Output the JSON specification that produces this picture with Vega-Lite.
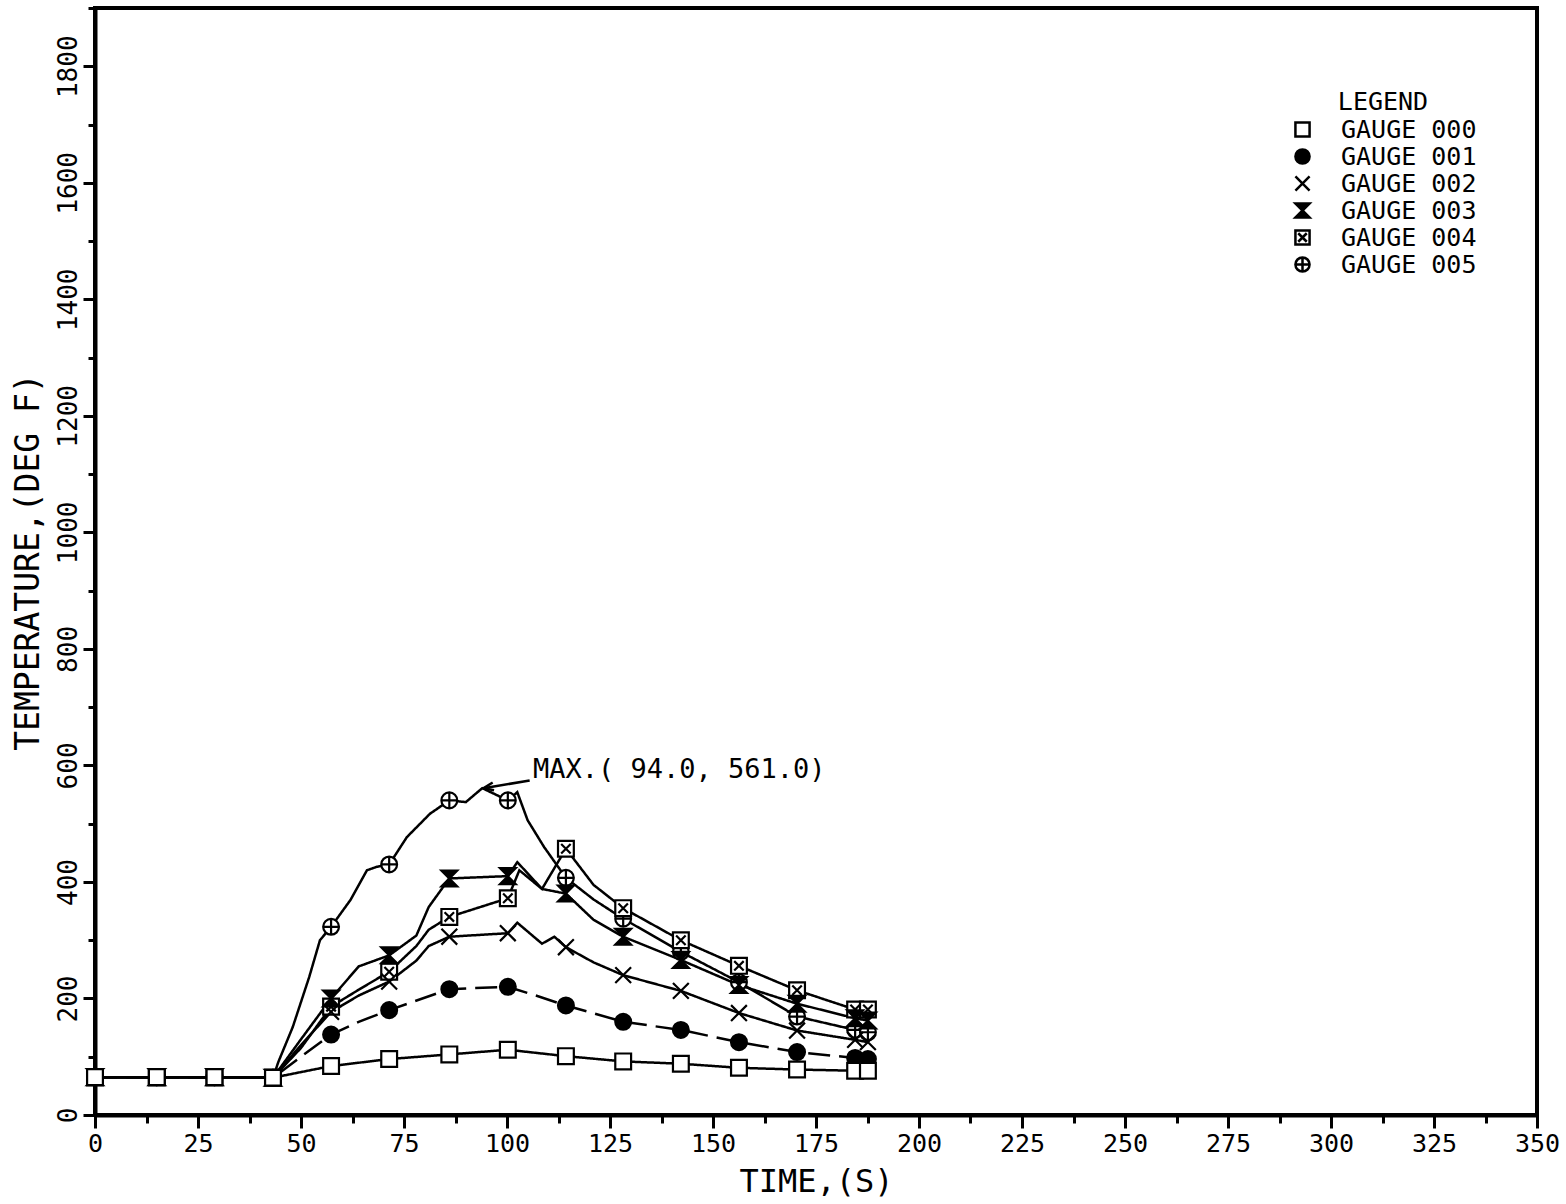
{
  "$schema": "https://vega.github.io/schema/vega-lite/v6.json",
  "width": 1442,
  "height": 1107,
  "autosize": {"type": "none"},
  "padding": {"left": 95, "top": 8, "right": 29, "bottom": 89},
  "background": "white",
  "config": {
    "font": "DejaVu Sans Mono",
    "view": {"stroke": "black", "strokeWidth": 4},
    "legend": {
      "orient": "none", "legendX": 1195, "legendY": 82,
      "titleFontSize": 25, "titleFontWeight": "normal", "titleColor": "black", "titleAnchor": "middle", "titlePadding": 2,
      "labelFontSize": 25, "labelColor": "black", "labelOffset": 26,
      "symbolSize": 200, "symbolStrokeWidth": 2.5, "rowPadding": 1
    }
  },
  "datasets": {
    "lines": [
      {"g": "GAUGE 005", "t": 0, "v": 65, "m": 1}, {"g": "GAUGE 005", "t": 15, "v": 65, "m": 1}, {"g": "GAUGE 005", "t": 29, "v": 65, "m": 1}, {"g": "GAUGE 005", "t": 43.2, "v": 64, "m": 1},
      {"g": "GAUGE 005", "t": 44.5, "v": 91, "m": 0}, {"g": "GAUGE 005", "t": 48, "v": 151, "m": 0}, {"g": "GAUGE 005", "t": 52, "v": 237, "m": 0}, {"g": "GAUGE 005", "t": 54.6, "v": 300, "m": 0},
      {"g": "GAUGE 005", "t": 57.3, "v": 323, "m": 1}, {"g": "GAUGE 005", "t": 62, "v": 369, "m": 0}, {"g": "GAUGE 005", "t": 66, "v": 420, "m": 0}, {"g": "GAUGE 005", "t": 68.4, "v": 426, "m": 0},
      {"g": "GAUGE 005", "t": 71.4, "v": 430, "m": 1}, {"g": "GAUGE 005", "t": 75.7, "v": 477, "m": 0}, {"g": "GAUGE 005", "t": 81.3, "v": 517, "m": 0}, {"g": "GAUGE 005", "t": 86, "v": 540, "m": 1},
      {"g": "GAUGE 005", "t": 90, "v": 537, "m": 0}, {"g": "GAUGE 005", "t": 94, "v": 561, "m": 0}, {"g": "GAUGE 005", "t": 100.2, "v": 540, "m": 1}, {"g": "GAUGE 005", "t": 102.5, "v": 554, "m": 0},
      {"g": "GAUGE 005", "t": 105, "v": 506, "m": 0}, {"g": "GAUGE 005", "t": 109, "v": 460, "m": 0}, {"g": "GAUGE 005", "t": 114.3, "v": 407, "m": 1}, {"g": "GAUGE 005", "t": 121, "v": 370, "m": 0},
      {"g": "GAUGE 005", "t": 128.2, "v": 337, "m": 1}, {"g": "GAUGE 005", "t": 142.2, "v": 280, "m": 1}, {"g": "GAUGE 005", "t": 156.3, "v": 228, "m": 1}, {"g": "GAUGE 005", "t": 170.4, "v": 169, "m": 1},
      {"g": "GAUGE 005", "t": 184.5, "v": 146, "m": 1}, {"g": "GAUGE 005", "t": 187.6, "v": 142, "m": 1},

      {"g": "GAUGE 004", "t": 0, "v": 65, "m": 1}, {"g": "GAUGE 004", "t": 15, "v": 65, "m": 1}, {"g": "GAUGE 004", "t": 29, "v": 65, "m": 1}, {"g": "GAUGE 004", "t": 43.2, "v": 64, "m": 1},
      {"g": "GAUGE 004", "t": 50, "v": 115, "m": 0}, {"g": "GAUGE 004", "t": 57.3, "v": 186, "m": 1}, {"g": "GAUGE 004", "t": 64, "v": 215, "m": 0}, {"g": "GAUGE 004", "t": 71.4, "v": 246, "m": 1},
      {"g": "GAUGE 004", "t": 78, "v": 290, "m": 0}, {"g": "GAUGE 004", "t": 81, "v": 318, "m": 0}, {"g": "GAUGE 004", "t": 86, "v": 340, "m": 1}, {"g": "GAUGE 004", "t": 100.2, "v": 372, "m": 1},
      {"g": "GAUGE 004", "t": 103, "v": 420, "m": 0}, {"g": "GAUGE 004", "t": 108.5, "v": 388, "m": 0}, {"g": "GAUGE 004", "t": 114.3, "v": 457, "m": 1}, {"g": "GAUGE 004", "t": 121, "v": 395, "m": 0},
      {"g": "GAUGE 004", "t": 128.2, "v": 355, "m": 1}, {"g": "GAUGE 004", "t": 142.2, "v": 300, "m": 1}, {"g": "GAUGE 004", "t": 156.3, "v": 256, "m": 1}, {"g": "GAUGE 004", "t": 170.4, "v": 214, "m": 1},
      {"g": "GAUGE 004", "t": 184.5, "v": 181, "m": 1}, {"g": "GAUGE 004", "t": 187.6, "v": 181, "m": 1},

      {"g": "GAUGE 003", "t": 0, "v": 65, "m": 1}, {"g": "GAUGE 003", "t": 15, "v": 65, "m": 1}, {"g": "GAUGE 003", "t": 29, "v": 65, "m": 1}, {"g": "GAUGE 003", "t": 43.2, "v": 64, "m": 1},
      {"g": "GAUGE 003", "t": 50, "v": 130, "m": 0}, {"g": "GAUGE 003", "t": 57.3, "v": 200, "m": 1}, {"g": "GAUGE 003", "t": 64, "v": 255, "m": 0}, {"g": "GAUGE 003", "t": 71.4, "v": 274, "m": 1},
      {"g": "GAUGE 003", "t": 78, "v": 308, "m": 0}, {"g": "GAUGE 003", "t": 81, "v": 357, "m": 0}, {"g": "GAUGE 003", "t": 86, "v": 406, "m": 1}, {"g": "GAUGE 003", "t": 100.2, "v": 410, "m": 1},
      {"g": "GAUGE 003", "t": 102.5, "v": 434, "m": 0}, {"g": "GAUGE 003", "t": 108.5, "v": 388, "m": 0}, {"g": "GAUGE 003", "t": 114.3, "v": 380, "m": 1}, {"g": "GAUGE 003", "t": 121, "v": 335, "m": 0},
      {"g": "GAUGE 003", "t": 128.2, "v": 306, "m": 1}, {"g": "GAUGE 003", "t": 142.2, "v": 266, "m": 1}, {"g": "GAUGE 003", "t": 156.3, "v": 223, "m": 1}, {"g": "GAUGE 003", "t": 170.4, "v": 191, "m": 1},
      {"g": "GAUGE 003", "t": 184.5, "v": 166, "m": 1}, {"g": "GAUGE 003", "t": 187.6, "v": 162, "m": 1},

      {"g": "GAUGE 002", "t": 0, "v": 65, "m": 1}, {"g": "GAUGE 002", "t": 15, "v": 65, "m": 1}, {"g": "GAUGE 002", "t": 29, "v": 65, "m": 1}, {"g": "GAUGE 002", "t": 43.2, "v": 64, "m": 1},
      {"g": "GAUGE 002", "t": 50, "v": 120, "m": 0}, {"g": "GAUGE 002", "t": 57.3, "v": 177, "m": 1}, {"g": "GAUGE 002", "t": 64, "v": 205, "m": 0}, {"g": "GAUGE 002", "t": 71.4, "v": 229, "m": 1},
      {"g": "GAUGE 002", "t": 78, "v": 265, "m": 0}, {"g": "GAUGE 002", "t": 81, "v": 290, "m": 0}, {"g": "GAUGE 002", "t": 86, "v": 306, "m": 1}, {"g": "GAUGE 002", "t": 100.2, "v": 312, "m": 1},
      {"g": "GAUGE 002", "t": 102.5, "v": 330, "m": 0}, {"g": "GAUGE 002", "t": 108.5, "v": 294, "m": 0}, {"g": "GAUGE 002", "t": 111.5, "v": 306, "m": 0}, {"g": "GAUGE 002", "t": 114.3, "v": 288, "m": 1},
      {"g": "GAUGE 002", "t": 121, "v": 262, "m": 0}, {"g": "GAUGE 002", "t": 128.2, "v": 240, "m": 1}, {"g": "GAUGE 002", "t": 142.2, "v": 213, "m": 1}, {"g": "GAUGE 002", "t": 156.3, "v": 175, "m": 1},
      {"g": "GAUGE 002", "t": 170.4, "v": 145, "m": 1}, {"g": "GAUGE 002", "t": 184.5, "v": 129, "m": 1}, {"g": "GAUGE 002", "t": 187.6, "v": 125, "m": 1},

      {"g": "GAUGE 001", "t": 0, "v": 65, "m": 1}, {"g": "GAUGE 001", "t": 15, "v": 65, "m": 1}, {"g": "GAUGE 001", "t": 29, "v": 65, "m": 1}, {"g": "GAUGE 001", "t": 43.2, "v": 64, "m": 1},
      {"g": "GAUGE 001", "t": 50, "v": 100, "m": 0}, {"g": "GAUGE 001", "t": 57.3, "v": 138, "m": 1}, {"g": "GAUGE 001", "t": 64, "v": 160, "m": 0}, {"g": "GAUGE 001", "t": 71.4, "v": 180, "m": 1},
      {"g": "GAUGE 001", "t": 86, "v": 216, "m": 1}, {"g": "GAUGE 001", "t": 100.2, "v": 220, "m": 1}, {"g": "GAUGE 001", "t": 107, "v": 205, "m": 0}, {"g": "GAUGE 001", "t": 114.3, "v": 188, "m": 1},
      {"g": "GAUGE 001", "t": 128.2, "v": 160, "m": 1}, {"g": "GAUGE 001", "t": 142.2, "v": 146, "m": 1}, {"g": "GAUGE 001", "t": 156.3, "v": 125, "m": 1}, {"g": "GAUGE 001", "t": 170.4, "v": 108, "m": 1},
      {"g": "GAUGE 001", "t": 184.5, "v": 98, "m": 1}, {"g": "GAUGE 001", "t": 187.6, "v": 96, "m": 1},

      {"g": "GAUGE 000", "t": 0, "v": 65, "m": 1}, {"g": "GAUGE 000", "t": 15, "v": 65, "m": 1}, {"g": "GAUGE 000", "t": 29, "v": 65, "m": 1}, {"g": "GAUGE 000", "t": 43.2, "v": 64, "m": 1},
      {"g": "GAUGE 000", "t": 57.3, "v": 84, "m": 1}, {"g": "GAUGE 000", "t": 71.4, "v": 96, "m": 1}, {"g": "GAUGE 000", "t": 86, "v": 104, "m": 1}, {"g": "GAUGE 000", "t": 100.2, "v": 112, "m": 1},
      {"g": "GAUGE 000", "t": 114.3, "v": 101, "m": 1}, {"g": "GAUGE 000", "t": 128.2, "v": 92, "m": 1}, {"g": "GAUGE 000", "t": 142.2, "v": 88, "m": 1}, {"g": "GAUGE 000", "t": 156.3, "v": 81, "m": 1},
      {"g": "GAUGE 000", "t": 170.4, "v": 78, "m": 1}, {"g": "GAUGE 000", "t": 184.5, "v": 76, "m": 1}, {"g": "GAUGE 000", "t": 187.6, "v": 76, "m": 1}
    ],
    "ann": [
      {"t": 94.3, "v": 561, "t2": 105.5, "v2": 574, "tx": 106.3, "vy": 592, "label": "MAX.( 94.0, 561.0)"}
    ]
  },
  "layer": [
    {
      "data": {"name": "lines"},
      "mark": {"type": "line", "color": "black", "strokeWidth": 2.5},
      "encoding": {
        "x": {
          "field": "t", "type": "quantitative",
          "scale": {"domain": [0, 350], "nice": false, "zero": false},
          "axis": {
            "values": [0, 12.5, 25, 37.5, 50, 62.5, 75, 87.5, 100, 112.5, 125, 137.5, 150, 162.5, 175, 187.5, 200, 212.5, 225, 237.5, 250, 262.5, 275, 287.5, 300, 312.5, 325, 337.5, 350],
            "format": "d",
            "labelExpr": "datum.value % 25 === 0 ? datum.label : ''",
            "labelFontSize": 25, "labelColor": "black", "labelPadding": 3,
            "labelOverlap": false, "labelFlush": false, "labelBound": false,
            "tickSize": {"condition": {"test": "datum.value % 25 === 0", "value": 13}, "value": 8},
            "tickWidth": 3, "tickColor": "black",
            "domainWidth": 4, "domainColor": "black", "grid": false,
            "title": "TIME,(S)", "titleFontSize": 32, "titleFontWeight": "normal", "titleColor": "black", "titlePadding": 10
          }
        },
        "y": {
          "field": "v", "type": "quantitative",
          "scale": {"domain": [0, 1900], "nice": false, "zero": false},
          "axis": {
            "values": [0, 100, 200, 300, 400, 500, 600, 700, 800, 900, 1000, 1100, 1200, 1300, 1400, 1500, 1600, 1700, 1800, 1900],
            "format": "d",
            "labelExpr": "datum.value % 200 === 0 && datum.value < 1900 ? datum.label : ''",
            "labelAngle": -90, "labelAlign": "center", "labelBaseline": "bottom",
            "labelFontSize": 26, "labelColor": "black", "labelPadding": 2,
            "labelOverlap": false, "labelFlush": false, "labelBound": false,
            "tickSize": {"condition": {"test": "datum.value % 200 === 0", "value": 12}, "value": 7},
            "tickWidth": 3, "tickColor": "black",
            "domainWidth": 4, "domainColor": "black", "grid": false,
            "title": "TEMPERATURE,(DEG F)", "titleFontSize": 33, "titleFontWeight": "normal", "titleColor": "black", "titlePadding": 10
          }
        },
        "detail": {"field": "g", "type": "nominal"},
        "strokeDash": {"condition": {"test": "datum.g === 'GAUGE 001'", "value": [22, 9]}, "value": [1, 0]}
      }
    },
    {
      "data": {"name": "lines"},
      "transform": [{"filter": "datum.m === 1"}],
      "mark": {"type": "point", "filled": true, "strokeWidth": 2.2, "size": 250, "opacity": 1},
      "encoding": {
        "x": {"field": "t", "type": "quantitative"},
        "y": {"field": "v", "type": "quantitative"},
        "shape": {
          "field": "g", "type": "nominal",
          "scale": {
            "domain": ["GAUGE 000", "GAUGE 001", "GAUGE 002", "GAUGE 003", "GAUGE 004", "GAUGE 005"],
            "range": ["square", "circle", "M-1,-1L1,1M-1,1L1,-1", "M-1,-1L1,-1L-1,1L1,1Z", "M-1,-1L1,-1L1,1L-1,1ZM-0.6,-0.6L0.6,0.6M-0.6,0.6L0.6,-0.6", "M-1,0A1,1,0,1,1,1,0A1,1,0,1,1,-1,0ZM-1,0L1,0M0,-1L0,1"]
          },
          "legend": {"title": "LEGEND"}
        },
        "fill": {
          "field": "g", "type": "nominal",
          "scale": {
            "domain": ["GAUGE 000", "GAUGE 001", "GAUGE 002", "GAUGE 003", "GAUGE 004", "GAUGE 005"],
            "range": ["white", "black", "white", "black", "white", "white"]
          },
          "legend": {"title": "LEGEND"}
        },
        "stroke": {
          "field": "g", "type": "nominal",
          "scale": {
            "domain": ["GAUGE 000", "GAUGE 001", "GAUGE 002", "GAUGE 003", "GAUGE 004", "GAUGE 005"],
            "range": ["black", "black", "black", "black", "black", "black"]
          },
          "legend": {"title": "LEGEND"}
        }
      }
    },
    {
      "data": {"name": "ann"},
      "mark": {"type": "rule", "color": "black", "strokeWidth": 2.5},
      "encoding": {
        "x": {"field": "t", "type": "quantitative"},
        "y": {"field": "v", "type": "quantitative"},
        "x2": {"field": "t2"},
        "y2": {"field": "v2"}
      }
    },
    {
      "data": {"name": "ann"},
      "mark": {"type": "point", "shape": "M2,-0.8L0,0L2,0.8", "filled": false, "stroke": "black", "strokeWidth": 2.5, "size": 100, "angle": 350, "opacity": 1},
      "encoding": {
        "x": {"field": "t", "type": "quantitative"},
        "y": {"field": "v", "type": "quantitative"}
      }
    },
    {
      "data": {"name": "ann"},
      "mark": {"type": "text", "align": "left", "baseline": "middle", "fontSize": 27, "color": "black"},
      "encoding": {
        "x": {"field": "tx", "type": "quantitative"},
        "y": {"field": "vy", "type": "quantitative"},
        "text": {"field": "label"}
      }
    }
  ]
}
